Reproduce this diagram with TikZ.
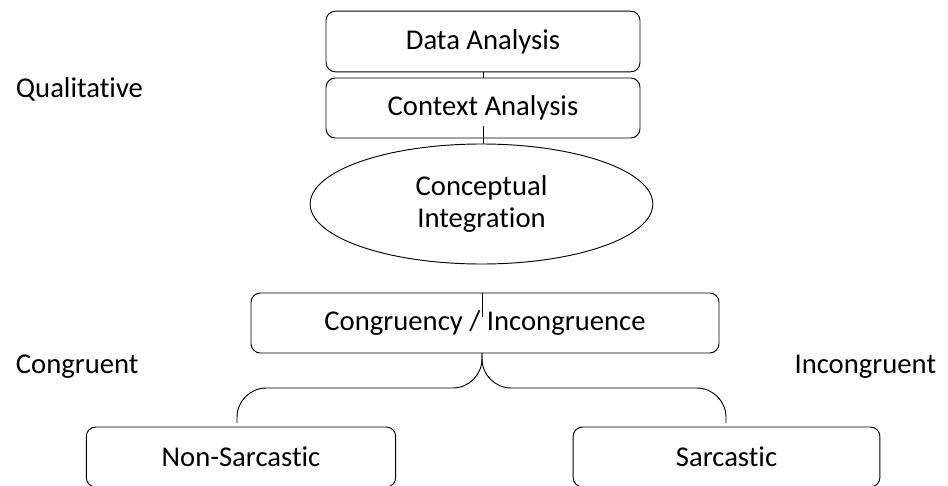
\documentclass[tikz,border=0pt]{standalone}
\usepackage{fontspec}
\setmainfont{Carlito}[Ligatures=NoCommon]
\usetikzlibrary{shapes.geometric}

\begin{document}
\begin{tikzpicture}[x=0.75pt,y=-0.75pt,line width=0.7pt,
    txt/.style={font=\fontsize{21.5}{24.5}\selectfont},
    stagebox/.style={txt,draw,rounded corners=7pt,inner sep=0pt,minimum height=45pt},
    blob/.style={txt,draw,ellipse,inner sep=0pt,align=center,minimum width=257pt,minimum height=90pt}]
    \useasboundingbox (0,0) rectangle (948,485);
    \clip (0,0) rectangle (948,485);

    % side labels
    \node[txt,anchor=base west] (qual) at (11,97) {Qualitative};
    \node[txt,anchor=base west] (cong) at (11,373) {Congruent};
    \node[txt,anchor=base east] (incong) at (941,373) {Incongruent};

    % analysis steps
    \node[stagebox,minimum width=235.5pt,minimum height=45.5pt] (data) at (483,41.5) {Data Analysis};
    \node[stagebox,minimum width=235.5pt] (context) at (483,108) {Context Analysis};
    \node[blob] (concept) at (481.5,204) {Conceptual\\Integration};
    \draw (data.south) -- (context.north);
    \coordinate (cur1) at (483,126);
    \draw (cur1) -- (cur1 |- concept.north);

    % decision
    \node[stagebox,minimum width=351pt] (decide) at (485,323) {Congruency / Incongruence};
    \coordinate (cur2) at (482,317);
    \draw (cur2 |- decide.north) -- (cur2);

    % outcomes
    \node[stagebox,minimum width=232pt] (nonsarc) at (241,457) {Non-Sarcastic};
    \node[stagebox,minimum width=230pt] (sarc) at (726.5,457) {Sarcastic};

    % brace
    \coordinate (tip) at (482,353);
    \coordinate (lend) at (237,423);
    \coordinate (rend) at (726,423);
    \draw[rounded corners=22pt] (tip) -- (tip |- 0,388) -- (lend |- 0,388) -- (lend);
    \draw[rounded corners=22pt] (tip) -- (tip |- 0,388) -- (rend |- 0,388) -- (rend);
\end{tikzpicture}
\end{document}
